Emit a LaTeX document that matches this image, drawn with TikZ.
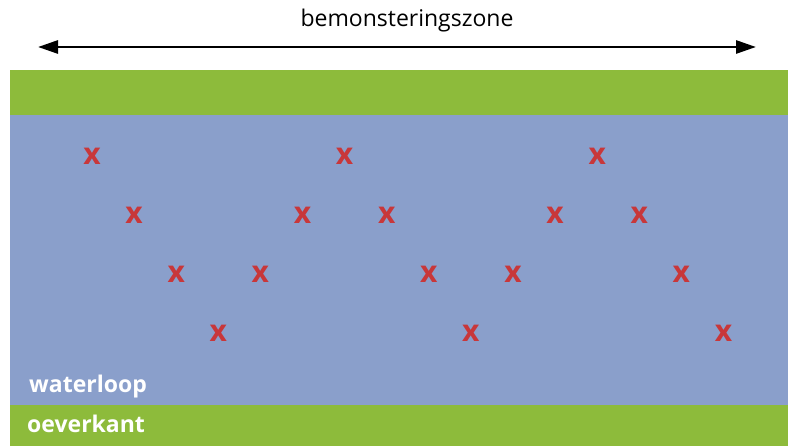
\documentclass[tikz,border=0pt]{standalone}
\usepackage{fontspec}
\setmainfont{Open Sans}
\usetikzlibrary{arrows.meta}
\definecolor{oever}{RGB}{141,187,59}
\definecolor{water}{RGB}{138,159,203}
\definecolor{punt}{RGB}{200,55,58}
\begin{document}
\begin{tikzpicture}[x=1pt,y=-1pt,
	mark x/.style={text=punt,font=\fontsize{30}{30}\selectfont\bfseries,inner sep=0pt},
	band label/.style={text=white,font=\fontsize{23}{23}\selectfont\bfseries,anchor=base west,inner sep=0pt}]
		\useasboundingbox (0,0) rectangle (788,446);
		\fill[oever] (10,70) rectangle (788,115);
		\fill[water] (10,115) rectangle (788,405);
		\fill[oever] (10,405) rectangle (788,446);
		\node (zone) at (407,21) {\fontsize{23}{23}\selectfont bemonsteringszone};
		\coordinate (links) at (38,47);
		\coordinate (rechts) at (756,47);
		\draw[line width=2.8pt,{Triangle[length=20pt,width=13pt]}-{Triangle[length=20pt,width=13pt]}] (links) -- (rechts);
		\foreach \i/\r in {0/1,1/2,2/3,3/4,4/3,5/2,6/1,7/2,8/3,9/4,10/3,11/2,12/1,13/2,14/3,15/4}
			\node[mark x] (x\i) at (92+42.1*\i,97+59*\r) {x};
		\node[band label] (waterloop) at (29,393) {waterloop};
		\node[band label] (oeverkant) at (27,433) {oeverkant};
	\end{tikzpicture}
\end{document}
